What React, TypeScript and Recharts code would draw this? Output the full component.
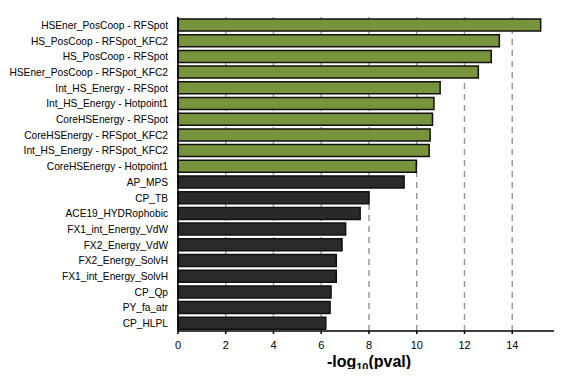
import { Bar, BarChart, CartesianGrid, Cell, ReferenceLine, XAxis, YAxis } from 'recharts'

const features = [
  'HSEner_PosCoop - RFSpot',
  'HS_PosCoop - RFSpot_KFC2',
  'HS_PosCoop - RFSpot',
  'HSEner_PosCoop - RFSpot_KFC2',
  'Int_HS_Energy - RFSpot',
  'Int_HS_Energy - Hotpoint1',
  'CoreHSEnergy - RFSpot',
  'CoreHSEnergy - RFSpot_KFC2',
  'Int_HS_Energy - RFSpot_KFC2',
  'CoreHSEnergy - Hotpoint1',
  'AP_MPS',
  'CP_TB',
  'ACE19_HYDRophobic',
  'FX1_int_Energy_VdW',
  'FX2_Energy_VdW',
  'FX2_Energy_SolvH',
  'FX1_int_Energy_SolvH',
  'CP_Qp',
  'PY_fa_atr',
  'CP_HLPL',
]
const logPval = [
  15.19, 13.46, 13.12, 12.58, 10.98, 10.72, 10.66, 10.56, 10.52, 9.98,
  9.47, 8.0, 7.63, 7.02, 6.87, 6.63, 6.63, 6.41, 6.37, 6.19,
]
const isCombined = [
  true, true, true, true, true, true, true, true, true, true,
  false, false, false, false, false, false, false, false, false, false,
]
const xTicks = [0, 2, 4, 6, 8, 10, 12, 14, 16]
const boundaryTicks = Array.from({ length: features.length + 1 }, (_, i) => i)

const data = features.map((name, i) => ({ name, value: logPval[i], combined: isCombined[i] }))

const font = 'Arial, "Liberation Sans", Helvetica, sans-serif'

function AxisTitle({ viewBox }: any) {
  const cx = viewBox.x + viewBox.width / 2
  return (
    <text x={cx} y={367} textAnchor="middle" fontFamily={font} fontWeight="bold" fontSize={16} fill="#000">
      -log
      <tspan fontSize={11} dy={4}>10</tspan>
      <tspan dy={-4}>(pval)</tspan>
    </text>
  )
}

function NameTick({ x, y, payload }: any) {
  return (
    <text x={x - 8} y={y} dy={4} textAnchor="end" fontFamily={font} fontSize={10.2} fill="#000">
      {payload.value}
    </text>
  )
}

export default function App() {
  return (
    <div style={{ margin: -8, width: 562, height: 377, background: '#fff', fontFamily: font }}>
      <BarChart
        width={562}
        height={377}
        data={data}
        layout="vertical"
        margin={{ top: 17, right: 2, bottom: 0, left: 0 }}
        barCategoryGap={3}
      >
        <CartesianGrid horizontal={false} stroke="#999" strokeWidth={1.5} strokeDasharray="6 5" />
        <ReferenceLine x={16} stroke="#999" strokeWidth={1.5} strokeDasharray="6 5" />
        <XAxis
          type="number"
          domain={[0, 16]}
          ticks={xTicks}
          interval={0}
          stroke="#000"
          strokeWidth={1.5}
          tickSize={3}
          tick={{ fill: '#000', fontSize: 11, fontFamily: font }}
          tickMargin={7}
          label={<AxisTitle />}
          height={46}
        />
        <XAxis
          xAxisId="top"
          type="number"
          orientation="top"
          domain={[0, 16]}
          ticks={xTicks}
          stroke="#000"
          strokeWidth={1.5}
          tickSize={2}
          tick={false}
          height={0}
        />
        <YAxis
          type="category"
          dataKey="name"
          width={178}
          stroke="#000"
          strokeWidth={1.5}
          tickSize={0}
          interval={0}
          tick={<NameTick />}
        />
        <YAxis
          yAxisId="edges"
          type="number"
          domain={[0, features.length]}
          ticks={boundaryTicks}
          interval={0}
          width={0}
          stroke="#000"
          strokeWidth={1.5}
          tickSize={4}
          tick={false}
        />
        <Bar dataKey="value" barSize={12} stroke="#111" strokeWidth={1.5} isAnimationActive={false}>
          {data.map((d, i) => (
            <Cell key={i} fill={d.combined ? '#77933C' : '#2a2a2a'} />
          ))}
        </Bar>
      </BarChart>
    </div>
  )
}
